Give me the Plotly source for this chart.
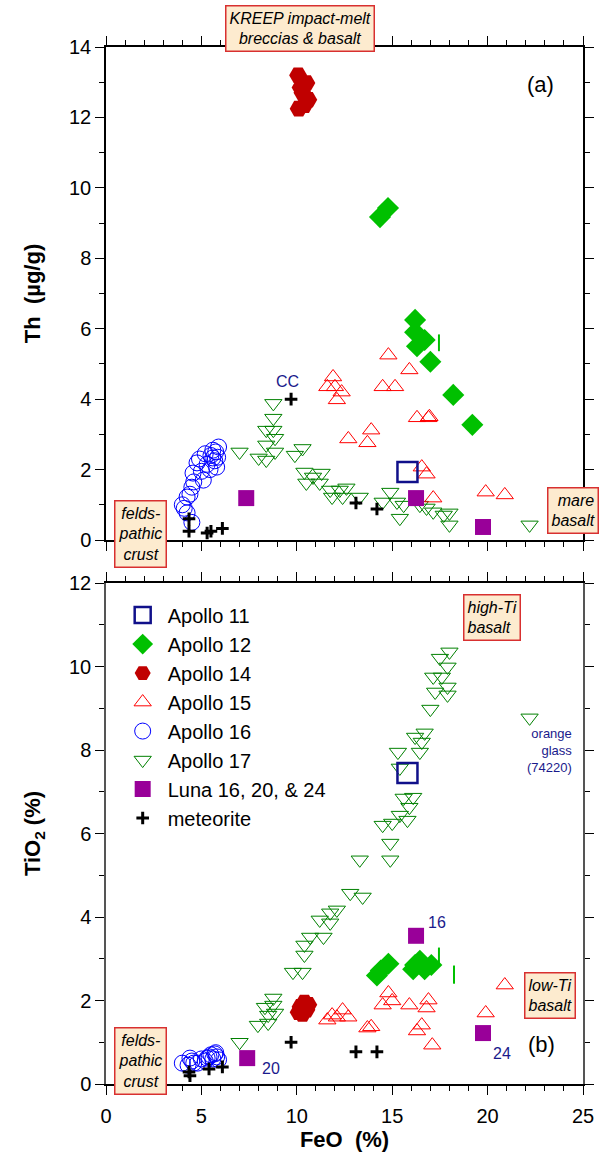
import plotly.graph_objects as go

# ---------------- data ----------------
# Panel (a): Th (ug/g) vs FeO (%)
a11_feo_th = [15.8]
a11_th = [1.93]
a12_feo_th = [14.36, 14.78, 16.2, 16.2, 16.7, 16.3, 17.0, 18.2, 19.2]
a12_th = [9.17, 9.43, 6.25, 5.9, 5.68, 5.5, 5.06, 4.12, 3.27]
a12b_feo_th = [17.45]
a12b_th = [5.6]
a14_feo_th = [10.07, 10.5, 10.3, 10.6, 10.1, 10.4, 10.2]
a14_th = [13.2, 12.98, 12.7, 12.5, 12.25, 12.35, 12.85]
a15_feo_th = [11.9, 11.6, 12.0, 12.35, 12.1, 14.8, 15.9, 14.5, 15.15, 16.3, 16.9, 16.95,
              13.9, 12.7, 13.7, 16.55, 16.8, 17.15, 19.9, 20.9]
a15_th = [4.63, 4.35, 4.35, 4.2, 3.98, 5.25, 4.83, 4.35, 4.35, 3.47, 3.47, 3.5,
          3.12, 2.87, 2.76, 2.07, 1.87, 1.19, 1.36, 1.28]
a16_feo_th = [4.5, 4.25, 4.0, 4.25, 4.5, 4.56, 4.77, 5.1, 5.45, 5.8, 5.6, 5.9, 4.9, 5.2,
              5.6, 5.7, 5.3, 4.4, 4.6, 5.0, 5.5, 5.75, 4.1, 5.85]
a16_th = [0.5, 0.77, 1.0, 1.22, 1.5, 1.9, 2.19, 1.7, 2.0, 2.07, 2.33, 2.64, 2.3, 2.45,
          2.55, 2.25, 2.15, 1.3, 1.65, 1.95, 2.4, 2.5, 0.9, 2.35]
a17_feo_th = [8.77, 8.77, 8.4, 8.77, 8.86, 8.4, 8.86, 7.0, 8.0, 8.4, 10.3, 9.9, 10.4,
              10.85, 10.5, 11.3, 11.2, 11.75, 12.25, 12.6, 11.85, 12.4, 13.3, 14.9, 14.5,
              15.25, 15.6, 15.4, 16.45, 16.8, 17.15, 17.7, 18.0, 18.0, 22.2]
a17_th = [3.88, 3.46, 3.12, 3.12, 2.89, 2.7, 2.5, 2.5, 2.33, 2.27, 2.6, 2.41, 1.93,
          1.79, 1.62, 1.9, 1.62, 1.42, 1.42, 1.48, 1.22, 1.22, 1.22, 1.36, 1.08,
          1.08, 0.99, 0.62, 0.99, 0.91, 0.8, 0.71, 0.77, 0.43, 0.43]
luna_feo_th = [7.35, 16.25, 19.76]
luna_th = [1.19, 1.19, 0.37]
met_feo_th = [4.35, 4.35, 5.3, 5.5, 6.1, 9.7, 13.1, 14.2]
met_th = [0.6, 0.25, 0.2, 0.25, 0.33, 4.0, 1.05, 0.88]

# Panel (b): TiO2 (%) vs FeO (%)
a11_feo_ti = [15.8]
a11_ti = [7.45]
a12_feo_ti = [14.2, 14.4, 14.8, 16.1, 16.2, 16.45, 16.7, 17.05]
a12_ti = [2.6, 2.72, 2.88, 2.75, 2.85, 2.95, 2.75, 2.85]
a12b_feo_ti = [17.45, 18.24]
a12b_ti = [3.05, 2.62]
a14_feo_ti = [10.1, 10.4, 10.5, 10.2, 10.6, 10.3]
a14_ti = [1.72, 1.95, 1.78, 1.85, 1.9, 1.68]
a15_feo_ti = [20.9, 19.9, 14.8, 14.5, 15.0, 15.9, 16.9, 16.8, 16.55, 16.3, 17.1, 12.4,
              12.1, 11.6, 12.7, 11.85, 13.7, 13.9]
a15_ti = [2.37, 1.70, 2.18, 1.89, 1.99, 1.89, 2.01, 1.82, 1.41, 1.27, 0.93, 1.77,
          1.6, 1.53, 1.6, 1.65, 1.34, 1.37]
a16_feo_ti = [4.0, 4.3, 4.5, 4.6, 5.0, 5.2, 5.4, 5.5, 5.6, 5.7, 5.8, 5.9, 4.8, 5.3, 5.75, 4.4]
a16_ti = [0.5, 0.45, 0.55, 0.5, 0.6, 0.55, 0.65, 0.7, 0.6, 0.72, 0.65, 0.58, 0.5, 0.62, 0.75, 0.62]
a17_feo_ti = [22.2, 18.0, 17.5, 17.9, 17.15, 17.6, 17.9, 17.25, 17.9, 17.0, 16.7, 16.2,
              16.55, 16.45, 15.3, 15.4, 15.6, 16.1, 15.9, 15.4, 15.8, 14.5, 15.0, 14.9,
              14.9, 13.3, 12.8, 13.45, 12.1, 11.75, 11.2, 11.75, 10.7, 11.4, 10.4, 10.4,
              9.8, 10.3, 8.77, 8.33, 8.77, 8.5, 8.86, 7.96, 8.5, 7.0]
a17_ti = [8.77, 10.35, 10.2, 9.99, 9.75, 9.75, 9.51, 9.39, 9.32, 8.98, 8.41, 8.31,
          8.19, 7.95, 7.95, 7.57, 6.85, 6.87, 6.63, 6.44, 6.32, 6.2, 6.25, 5.77,
          5.37, 5.37, 4.57, 4.48, 4.17, 4.1, 3.93, 3.86, 3.52, 3.52, 3.33, 3.09,
          2.68, 2.68, 2.06, 1.84, 1.89, 1.65, 1.70, 1.41, 1.46, 1.0]
luna_feo_ti = [7.4, 16.25, 19.76]
luna_ti = [0.62, 3.55, 1.22]
met_feo_ti = [4.35, 4.4, 5.4, 6.1, 9.7, 13.1, 14.2]
met_ti = [0.29, 0.2, 0.36, 0.41, 1.0, 0.77, 0.77]

series_names = ["Apollo 11", "Apollo 12", "Apollo 14", "Apollo 15", "Apollo 16",
                "Apollo 17", "Luna 16, 20, & 24", "meteorite"]

# ---------------- styles ----------------
styles = {
    "Apollo 11": dict(symbol="square-open", size=20, color="#10108a", line=dict(width=2.5, color="#10108a")),
    "Apollo 12": dict(symbol="diamond", size=17, color="#00c000", line=dict(width=0)),
    "Apollo 14": dict(symbol="hexagon2", size=18, color="#c00000", line=dict(width=0)),
    "Apollo 15": dict(symbol="triangle-up-open", size=15, color="#ff0000", line=dict(width=1, color="#ff0000")),
    "Apollo 16": dict(symbol="circle-open", size=16, color="#0000ff", line=dict(width=1, color="#0000ff")),
    "Apollo 17": dict(symbol="triangle-down-open", size=15, color="#008000", line=dict(width=1, color="#008000")),
    "Luna 16, 20, & 24": dict(symbol="square", size=16, color="#990099", line=dict(width=0)),
    "meteorite": dict(symbol="cross-thin", size=9, color="#000000", line=dict(width=3, color="#000000")),
}

top = {
    "Apollo 11": (a11_feo_th, a11_th), "Apollo 12": (a12_feo_th, a12_th),
    "Apollo 14": (a14_feo_th, a14_th), "Apollo 15": (a15_feo_th, a15_th),
    "Apollo 16": (a16_feo_th, a16_th), "Apollo 17": (a17_feo_th, a17_th),
    "Luna 16, 20, & 24": (luna_feo_th, luna_th), "meteorite": (met_feo_th, met_th),
}
bot = {
    "Apollo 11": (a11_feo_ti, a11_ti), "Apollo 12": (a12_feo_ti, a12_ti),
    "Apollo 14": (a14_feo_ti, a14_ti), "Apollo 15": (a15_feo_ti, a15_ti),
    "Apollo 16": (a16_feo_ti, a16_ti), "Apollo 17": (a17_feo_ti, a17_ti),
    "Luna 16, 20, & 24": (luna_feo_ti, luna_ti), "meteorite": (met_feo_ti, met_ti),
}

FONT = "Arial, Liberation Sans, sans-serif"
fig = go.Figure()

order = ["Apollo 16", "Apollo 17", "Apollo 15", "Apollo 14", "Apollo 12",
         "Luna 16, 20, & 24", "meteorite", "Apollo 11"]
for name in order:
    x, y = top[name]
    fig.add_trace(go.Scatter(x=x, y=y, mode="markers", marker=styles[name], name=name,
                             xaxis="x", yaxis="y", showlegend=False, hoverinfo="x+y"))
fig.add_trace(go.Scatter(x=a12b_feo_th, y=a12b_th, mode="markers", xaxis="x", yaxis="y",
                         marker=dict(symbol="line-ns", size=12, line=dict(width=2, color="#00c000")),
                         showlegend=False))

for name in order:
    x, y = bot[name]
    fig.add_trace(go.Scatter(x=x, y=y, mode="markers", marker=styles[name], name=name,
                             xaxis="x2", yaxis="y2", showlegend=True,
                             legendgroup=name, legendrank=series_names.index(name),
                             hoverinfo="x+y"))
fig.add_trace(go.Scatter(x=a12b_feo_ti, y=a12b_ti, mode="markers", xaxis="x2", yaxis="y2",
                         marker=dict(symbol="line-ns", size=13, line=dict(width=2, color="#00c000")),
                         showlegend=False))

# ---------------- axes ----------------
W, H = 605, 1157
ml, mr, mt, mb = 106, 22, 47, 73
plot_h = H - mt - mb
top_dom = [(1084 - 540) / plot_h, 1.0]
bot_dom = [0.0, (1084 - 583) / plot_h]

tickfont = dict(family=FONT, size=20, color="black")
titlefont = dict(family=FONT, size=22, color="black")

def xax(show_labels, anchor, title=None):
    d = dict(range=[0, 25], dtick=5, tick0=0, ticks="outside", ticklen=9, tickwidth=1,
             tickcolor="black", showline=True, linecolor="black", linewidth=1.5,
             mirror="allticks", showgrid=False, zeroline=False, anchor=anchor,
             showticklabels=show_labels, tickfont=tickfont, ticklabelstandoff=4,
             minor=dict(dtick=1, ticks="outside", ticklen=5, tickwidth=1, tickcolor="black",
                        showgrid=False))
    if title:
        d["title"] = dict(text=title, font=titlefont, standoff=4)
    return d

def yax(rng, dom, title, anchor, lcolor="black"):
    return dict(range=rng, domain=dom, dtick=2, tick0=0, ticks="outside", ticklen=9,
                tickwidth=1, tickcolor="black", showline=True, linecolor=lcolor, linewidth=1.5,
                mirror="allticks", showgrid=False, zeroline=False, anchor=anchor,
                tickfont=tickfont, title=dict(text=title, font=titlefont, standoff=22),
                minor=dict(dtick=1, ticks="outside", ticklen=5, tickwidth=1, tickcolor="black",
                           showgrid=False))

fig.update_layout(
    width=W, height=H,
    margin=dict(l=ml, r=mr, t=mt, b=mb, autoexpand=False),
    paper_bgcolor="white", plot_bgcolor="white",
    font=dict(family=FONT, color="black"),
    xaxis=xax(False, "y"),
    yaxis=yax([0, 14], top_dom, "<b>Th\u00a0\u00a0(µg/g)</b>", "x"),
    xaxis2=xax(True, "y2", "<b>FeO\u00a0\u00a0(%)</b>"),
    yaxis2=yax([0, 12], bot_dom, "<b>TiO<sub>2</sub>\u00a0(%)</b>", "x2", lcolor="#555555"),
    legend=dict(x=0.0245, y=0.471, xanchor="left", yanchor="top",
                font=dict(family=FONT, size=20, color="black"),
                bgcolor="rgba(0,0,0,0)", traceorder="grouped", tracegroupgap=0,
                itemsizing="trace", itemwidth=40),
    showlegend=True,
)

# ---------------- annotations ----------------
def px2paper(px, py):
    return (px - ml) / (W - ml - mr), (1084 - py) / plot_h

box = dict(bgcolor="#fdebcf", bordercolor="#d83030", borderwidth=1.5, borderpad=3,
           showarrow=False, xref="paper", yref="paper",
           font=dict(family=FONT, size=16, color="black"))

def add_box(text, px, py, align="center"):
    x, y = px2paper(px, py)
    fig.add_annotation(text=text, x=x, y=y, xanchor="center", yanchor="middle",
                       align=align, **box)

add_box("<i>KREEP impact-melt<br>breccias & basalt</i>", 300, 29)
add_box("<i>felds-<br>pathic<br>crust</i>", 140, 534)
add_box("<i>mare<br>basalt</i>", 573, 510, align="right")
add_box("<i>high-Ti<br>basalt</i>", 492, 617, align="left")
add_box("<i>low-Ti<br>basalt</i>", 550, 995, align="left")
add_box("<i>felds-<br>pathic<br>crust</i>", 140, 1061)

for txt, px, py in [("(a)", 556, 70), ("(b)", 557, 1059)]:
    x, y = px2paper(px, py)
    fig.add_annotation(text=txt, x=x, y=y, xref="paper", yref="paper", showarrow=False,
                       font=dict(family=FONT, size=22, color="black"))

x, y = px2paper(574, 751)
fig.add_annotation(text="orange<br>glass<br>(74220)", x=x, y=y, xref="paper", yref="paper",
                   xanchor="right", yanchor="middle", align="right", showarrow=False,
                   font=dict(family=FONT, size=13, color="#1a1a8c"))

navy = dict(family=FONT, size=16, color="#1a1a8c")
fig.add_annotation(text="CC", x=9.5, y=4.49, xref="x", yref="y", showarrow=False, font=navy)
fig.add_annotation(text="16", x=17.35, y=3.86, xref="x2", yref="y2", showarrow=False, font=navy)
fig.add_annotation(text="24", x=20.75, y=0.74, xref="x2", yref="y2", showarrow=False, font=navy)
fig.add_annotation(text="20", x=8.65, y=0.36, xref="x2", yref="y2", showarrow=False, font=navy)

fig.write_html("out.html", config={"displayModeBar": False},
               post_script="document.body.style.margin='0px';")
